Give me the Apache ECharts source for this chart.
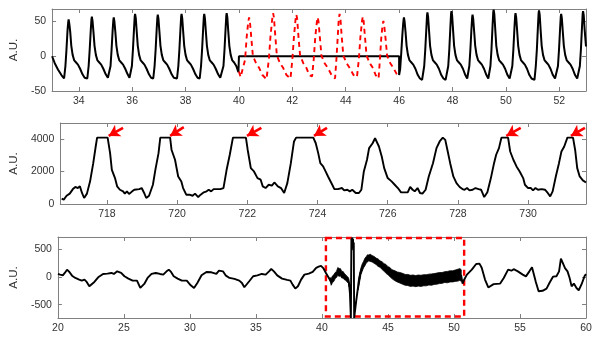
<!DOCTYPE html>
<html>
<head>
<meta charset="utf-8">
<script src="https://cdn.jsdelivr.net/npm/echarts@6/dist/echarts.min.js"></script>
<style>
html,body{margin:0;padding:0;background:#fff;}
#chart{width:598px;height:339px;}
</style>
</head>
<body>
<div id="chart"></div>
<script>
// ---------- Panel 1 (top) ----------
const topTicksX = [34,36,38,40,42,44,46,48,50,52];
const topTicksY = [-50,0,50];
const topBlack = [
[33.00,0],[33.10,-10],[33.22,-19],[33.35,-27],
[33.45,-32],[33.50,-14],[33.54,10],[33.58,38],[33.605,49],[33.62,53],[33.645,47],[33.68,35],[33.72,15],[33.77,2],[33.83,-6],[33.90,-9],[33.97,-12],[34.05,-18],[34.14,-26],[34.22,-31],[34.28,-32],
[34.32,-32],[34.37,-14],[34.41,10],[34.45,38],[34.475,53],[34.49,57],[34.515,51],[34.55,35],[34.59,15],[34.64,2],[34.70,-6],[34.77,-9],[34.84,-12],[34.92,-18],[35.01,-26],[35.09,-31],
[35.14,-32],[35.19,-14],[35.23,10],[35.27,38],[35.295,52],[35.31,56],[35.335,50],[35.37,35],[35.41,15],[35.46,2],[35.52,-6],[35.59,-9],[35.66,-12],[35.74,-18],[35.83,-26],[35.90,-31],
[35.94,-32],[35.99,-14],[36.03,10],[36.07,40],[36.095,57],[36.11,61],[36.135,55],[36.17,36],[36.21,15],[36.26,2],[36.32,-6],[36.39,-9],[36.46,-12],[36.54,-18],[36.63,-26],[36.71,-31],[36.76,-32],
[36.79,-32],[36.84,-14],[36.88,10],[36.92,40],[36.945,56],[36.96,60],[36.985,54],[37.02,36],[37.06,15],[37.11,2],[37.17,-6],[37.24,-9],[37.31,-12],[37.39,-18],[37.48,-26],[37.56,-31],[37.62,-32],
[37.68,-32],[37.73,-14],[37.77,10],[37.81,40],[37.835,57],[37.85,61],[37.875,55],[37.91,36],[37.95,15],[38.00,2],[38.06,-6],[38.13,-9],[38.20,-12],[38.28,-18],[38.37,-26],[38.45,-31],[38.48,-32],
[38.53,-32],[38.58,-14],[38.62,10],[38.66,40],[38.685,57],[38.70,61],[38.725,55],[38.76,36],[38.80,15],[38.85,2],[38.91,-6],[38.98,-9],[39.05,-12],[39.13,-18],[39.22,-26],[39.30,-31],[39.33,-32],
[39.37,-32],[39.42,-14],[39.46,10],[39.50,40],[39.525,58],[39.54,62],[39.565,56],[39.60,36],[39.64,15],[39.69,2],[39.75,-6],[39.82,-9],[39.90,-14],[39.98,-23],
[40.00,0],[46.00,0],[46.00,-27],
[46.04,-18],[46.08,5],[46.12,30],[46.15,46],[46.165,52],[46.18,56],[46.205,50],[46.24,35],[46.28,15],[46.33,2],[46.39,-6],[46.46,-9],[46.53,-12],[46.61,-18],[46.70,-27],[46.78,-32],[46.86,-34],
[46.89,-34],[46.94,-14],[46.98,10],[47.02,40],[47.045,59],[47.06,63],[47.085,57],[47.12,37],[47.16,15],[47.21,2],[47.27,-6],[47.34,-9],[47.41,-12],[47.49,-18],[47.58,-27],[47.66,-32],[47.74,-34],
[47.79,-34],[47.84,-14],[47.88,10],[47.92,42],[47.945,61],[47.96,65],[47.985,59],[48.02,38],[48.06,15],[48.11,2],[48.17,-6],[48.24,-9],[48.31,-12],[48.39,-18],[48.48,-27],[48.55,-32],
[48.58,-34],[48.63,-14],[48.67,10],[48.71,40],[48.735,56],[48.75,60],[48.775,54],[48.81,36],[48.85,15],[48.90,2],[48.96,-6],[49.03,-9],[49.10,-12],[49.18,-18],[49.27,-27],[49.34,-32],
[49.37,-34],[49.42,-14],[49.46,10],[49.50,44],[49.525,63],[49.54,67],[49.565,61],[49.60,39],[49.64,15],[49.69,2],[49.75,-6],[49.82,-9],[49.89,-12],[49.97,-18],[50.06,-27],[50.14,-32],
[50.19,-34],[50.24,-14],[50.28,10],[50.32,41],[50.345,58],[50.36,62],[50.385,56],[50.42,37],[50.46,15],[50.51,2],[50.57,-6],[50.64,-9],[50.71,-12],[50.79,-18],[50.88,-27],[50.96,-32],[51.02,-34],
[51.07,-34],[51.12,-14],[51.16,10],[51.20,43],[51.225,62],[51.24,66],[51.265,60],[51.30,38],[51.34,15],[51.39,2],[51.45,-6],[51.52,-9],[51.59,-12],[51.67,-18],[51.76,-27],[51.84,-32],[51.88,-34],
[51.90,-34],[51.95,-14],[51.99,10],[52.03,40],[52.055,57],[52.07,61],[52.095,55],[52.13,36],[52.17,15],[52.22,2],[52.28,-6],[52.35,-9],[52.42,-12],[52.50,-18],[52.59,-27],[52.67,-32],[52.70,-34],
[52.72,-34],[52.77,-14],[52.81,10],[52.85,42],[52.875,61],[52.89,65],[52.915,59],[52.95,38],[53.00,14]
];
const topRed = [
[40.00,-22],[40.06,-30],[40.13,-31],[40.23,-5],[40.29,28],[40.35,50],[40.38,56],[40.41,50],[40.46,28],[40.52,1],[40.64,-10],[40.76,-17],[40.88,-27],
[41.03,-33],[41.12,-5],[41.18,28],[41.25,55],[41.28,62],[41.31,56],[41.36,30],[41.42,1],[41.54,-10],[41.66,-17],[41.78,-27],
[41.93,-32],[42.00,-5],[42.06,28],[42.12,53],[42.15,60],[42.18,54],[42.23,28],[42.29,1],[42.41,-10],[42.53,-17],[42.63,-27],
[42.74,-29],[42.80,-5],[42.86,28],[42.92,50],[42.95,56],[42.98,50],[43.03,28],[43.09,1],[43.21,-10],[43.33,-17],[43.47,-27],
[43.60,-32],[43.65,-5],[43.70,28],[43.74,54],[43.77,61],[43.80,55],[43.85,28],[43.91,1],[44.03,-10],[44.15,-17],[44.29,-27],
[44.42,-30],[44.49,-5],[44.55,28],[44.61,51],[44.64,57],[44.67,51],[44.72,28],[44.78,1],[44.90,-10],[45.02,-17],[45.12,-27],
[45.23,-32],[45.28,-5],[45.33,26],[45.38,45],[45.41,51],[45.44,45],[45.49,26],[45.55,1],[45.67,-10],[45.79,-17],[45.90,-25],
[46.01,-28]
];

// ---------- Panel 2 (middle) ----------
const midTicksX = [718,720,722,724,726,728,730];
const midTicksY = [0,2000,4000];
const midSignal = [
[716.71,330],[716.77,270],[716.85,510],[716.94,640],[717.03,920],[717.10,1050],[717.17,985],[717.23,1090],[717.29,680],[717.35,370],[717.43,640],[717.52,1400],[717.61,2520],[717.68,3550],[717.72,4095],[718.02,4095],[718.09,3140],[718.14,2110],[718.23,1600],[718.29,1090],[718.37,880],[718.46,780],[718.51,640],[718.57,780],[718.63,615],[718.72,780],[718.78,880],[718.92,920],[718.99,985],[719.06,680],[719.12,370],[719.20,510],[719.31,1190],[719.38,2110],[719.47,3140],[719.52,4095],[719.80,4095],[719.84,3350],[719.94,2730],[720.03,1700],[720.12,1395],[720.17,985],[720.26,575],[720.35,575],[720.44,510],[720.51,640],[720.60,430],[720.67,575],[720.76,720],[720.84,780],[720.90,880],[720.97,780],[721.04,920],[721.13,920],[721.23,920],[721.32,985],[721.41,2110],[721.50,3040],[721.59,4095],[721.96,4095],[722.01,3350],[722.10,2215],[722.19,2010],[722.29,1600],[722.38,1500],[722.44,1090],[722.52,985],[722.61,1190],[722.70,1130],[722.77,1330],[722.87,1090],[722.96,985],[723.05,680],[723.14,1290],[723.24,2520],[723.33,3860],[723.39,4095],[723.88,4095],[723.95,3750],[724.02,3140],[724.08,2520],[724.16,2320],[724.23,2010],[724.30,1700],[724.34,1600],[724.42,1190],[724.48,920],[724.58,920],[724.62,840],[724.70,985],[724.76,840],[724.85,880],[724.92,780],[724.99,880],[725.09,680],[725.18,680],[725.25,880],[725.32,2010],[725.41,2730],[725.47,3450],[725.57,3750],[725.64,4060],[725.69,4060],[725.75,3550],[725.83,2930],[725.90,2215],[726.00,1600],[726.11,1395],[726.20,1190],[726.29,985],[726.38,720],[726.48,720],[726.57,720],[726.64,1050],[726.71,880],[726.77,780],[726.85,985],[726.92,680],[726.99,640],[727.08,880],[727.17,1700],[727.29,2520],[727.39,3450],[727.48,3860],[727.57,4100],[727.64,3960],[727.70,3350],[727.78,2520],[727.87,1700],[727.96,1290],[728.05,1050],[728.13,920],[728.19,880],[728.26,985],[728.33,840],[728.42,880],[728.50,985],[728.59,920],[728.66,880],[728.75,430],[728.84,720],[728.94,1600],[729.03,2520],[729.09,3040],[729.17,3450],[729.24,4095],[729.43,4095],[729.49,3240],[729.58,2730],[729.67,2320],[729.76,2010],[729.86,1600],[729.91,1190],[730.00,985],[730.08,985],[730.14,840],[730.21,985],[730.28,880],[730.39,920],[730.48,880],[730.56,680],[730.63,470],[730.70,780],[730.79,1700],[730.88,2520],[730.95,3240],[731.03,3550],[731.12,4095],[731.28,4095],[731.34,3350],[731.40,2215],[731.47,1700],[731.56,1460],[731.65,1330]
];
const arrowTipX  = [718.05, 719.80, 721.99, 723.90, 729.38, 731.22];
const arrowTipY  = [4200, 4200, 4200, 4200, 4200, 4200];
const arrowTailX = [718.46, 720.19, 722.40, 724.27, 729.79, 731.62];
const arrowTailY = [4700, 4740, 4700, 4700, 4700, 4700];

// ---------- Panel 3 (bottom) ----------
const botTicksX = [20,25,30,35,40,45,50,55,60];
const botTicksY = [-500,0,500];
const botSignal = [
[20.00,54],[20.17,42],[20.37,29],[20.52,72],[20.69,131],[20.87,90],[21.07,23],[21.32,-18],[21.61,-48],[21.81,-66],[22.01,-48],[22.18,-90],[22.38,-168],[22.51,-186],[22.76,-90],[23.05,-6],[23.42,54],[23.75,60],[24.05,72],[24.24,54],[24.49,101],[24.62,113],[24.79,72],[25.04,12],[25.34,-30],[25.66,-66],[25.99,-66],[26.24,-198],[26.34,-216],[26.54,-126],[26.79,-18],[27.09,54],[27.41,72],[27.73,54],[27.98,42],[28.23,101],[28.40,131],[28.57,90],[28.77,12],[29.07,-30],[29.39,-66],[29.76,-66],[30.06,-150],[30.31,-198],[30.56,-108],[30.88,29],[31.25,90],[31.63,84],[32.00,54],[32.20,113],[32.33,149],[32.50,101],[32.70,29],[33.00,-18],[33.37,-36],[33.74,-66],[33.94,-108],[34.12,-186],[34.24,-180],[34.49,-78],[34.79,12],[35.11,29],[35.44,54],[35.74,42],[35.99,101],[36.16,143],[36.36,101],[36.61,29],[36.98,-30],[37.36,-54],[37.61,-66],[37.78,-138],[37.98,-210],[38.18,-168],[38.42,-48],[38.67,42],[39.00,60],[39.30,90],[39.56,165],[39.75,185],[39.93,200],[40.10,160],[40.30,70],[40.50,-10],
[40.60,-25],[40.70,-90],[40.80,-45],[40.95,-5],[41.10,50],[41.30,85],[41.45,60],[41.60,35],[41.75,5],[41.90,-40],[42.05,-110],
[42.12,-300],[42.19,-740],[42.23,690],[42.26,560],[42.29,710],[42.32,520],[42.35,690],[42.38,480],[42.41,620],[42.44,-740],[42.59,-440],[42.75,-150],
[42.90,60],[43.10,190],[43.30,300],[43.50,345],[43.80,330],[44.10,280],[44.50,210],[44.90,120],[45.30,45],[45.70,-5],[46.10,-40],[46.50,-65],[47.00,-70],[47.50,-68],[48.00,-55],[48.50,-40],[49.00,-20],[49.50,-5],[50.00,18],[50.35,40],[50.55,25],
[50.65,-120],[50.75,-60],[50.98,42],[51.35,131],[51.68,233],[51.93,240],[52.10,167],[52.35,-48],[52.60,-190],[52.73,-160],[53.00,-130],[53.50,-120],[53.77,-18],[54.10,131],[54.35,113],[54.52,140],[54.84,101],[55.21,42],[55.45,10],[55.71,101],[55.91,175],[56.00,150],[56.20,-90],[56.41,-258],[56.71,-250],[57.01,-210],[57.25,-100],[57.50,5],[57.76,12],[57.96,101],[58.10,330],[58.20,340],[58.41,160],[58.60,100],[58.76,-18],[58.91,-170],[59.08,-120],[59.28,-200],[59.45,-240],[59.65,-140],[59.90,20],[60.00,50]
];
// noise envelope (two segments)
const bandAX    = [40.60, 40.70, 40.80, 40.90, 41.00, 41.10, 41.20, 41.30, 41.40, 41.50, 41.60, 41.70, 41.80, 41.90, 42.00, 42.06];
const bandALow  = [-50, -150, -100, -80, -30, -10, 30, 10, 20, -20, -20, -50, -60, -90, -110, -180];
const bandAHigh = [-10, -30, 20, 40, 80, 100, 170, 150, 150, 100, 100, 60, 40, 10, -10, -60];
const bandBX    = [42.75, 42.85, 42.95, 43.05, 43.15, 43.25, 43.35, 43.45, 43.55, 43.65, 43.80, 43.95, 44.10, 44.25, 44.40, 44.55, 44.70, 44.85, 45.00, 45.15, 45.30, 45.50, 45.70, 45.90, 46.10, 46.30, 46.50, 46.70, 46.90, 47.10, 47.30, 47.50, 47.70, 47.90, 48.10, 48.30, 48.50, 48.70, 48.90, 49.10, 49.30, 49.50, 49.70, 49.90, 50.10, 50.30, 50.45, 50.55];
const bandBLow  = [-230, -90, 40, 105, 165, 200, 250, 270, 290, 280, 270, 245, 225, 190, 175, 135, 105, 65, 40, 5, -30, -65, -90, -110, -130, -150, -155, -170, -165, -175, -165, -170, -160, -160, -145, -150, -135, -130, -120, -115, -100, -105, -90, -90, -80, -75, -60, -80];
const bandBHigh = [-70, 60, 160, 235, 280, 335, 365, 400, 395, 410, 385, 370, 340, 325, 290, 275, 240, 225, 185, 170, 130, 115, 90, 80, 65, 45, 45, 30, 35, 25, 35, 30, 40, 40, 50, 55, 60, 70, 80, 80, 95, 100, 110, 110, 125, 140, 150, 130];
const boxX = [40.3, 50.77];
const boxY = [-712, 702];

// ---------- build ----------
const FONT = '"Liberation Sans", Arial, Helvetica, sans-serif';
const AXC = '#808080';
const LBL = '#333333';
const plain = v => String(v);

function xPair(grid, min, max, ticks){
  const base = {
    type:'value', gridIndex:grid, min:min, max:max,
    axisLine:{show:true, onZero:false, lineStyle:{color:AXC, width:1}},
    splitLine:{show:false}
  };
  return [
    Object.assign({}, base, {position:'bottom',
      axisTick:{show:true, inside:true, length:4, customValues:ticks, lineStyle:{color:AXC}},
      axisLabel:{show:true, customValues:ticks, formatter:plain, margin:5, color:LBL, fontSize:10.5, fontFamily:FONT}}),
    Object.assign({}, base, {position:'top',
      axisTick:{show:true, inside:true, length:4, customValues:ticks, lineStyle:{color:AXC}},
      axisLabel:{show:false}})
  ];
}
function yPair(grid, min, max, ticks){
  const base = {
    type:'value', gridIndex:grid, min:min, max:max,
    axisLine:{show:true, onZero:false, lineStyle:{color:AXC, width:1}},
    splitLine:{show:false}
  };
  return [
    Object.assign({}, base, {position:'left', name:'A.U.', nameLocation:'middle', nameGap:28,
      nameTextStyle:{color:LBL, fontSize:11.5, fontFamily:FONT},
      axisTick:{show:true, inside:true, length:4, customValues:ticks, lineStyle:{color:AXC}},
      axisLabel:{show:true, customValues:ticks, formatter:plain, margin:6, color:LBL, fontSize:10.5, fontFamily:FONT}}),
    Object.assign({}, base, {position:'right',
      axisTick:{show:true, inside:true, length:4, customValues:ticks, lineStyle:{color:AXC}},
      axisLabel:{show:false}})
  ];
}

const xAxes = [].concat(
  xPair(0, 33, 53, topTicksX),
  xPair(1, 716.67, 731.65, midTicksX),
  xPair(2, 20, 60, botTicksX)
);
const yAxes = [].concat(
  yPair(0, -50, 68, topTicksY),
  yPair(1, 0, 5000, midTicksY),
  yPair(2, -740, 720, botTicksY)
);

const arrows = arrowTipX.map((tx, i) => [
  {coord:[arrowTailX[i], arrowTailY[i]]},
  {coord:[tx, arrowTipY[i]]}
]);

function bandPolygon(api, xs, lo, hi){
  const pts = [];
  for (let i = 0; i < xs.length; i++) pts.push(api.coord([xs[i], lo[i]]));
  for (let i = xs.length - 1; i >= 0; i--) pts.push(api.coord([xs[i], hi[i]]));
  return {type:'polygon', shape:{points:pts}, style:{fill:'#000', stroke:'#000', lineWidth:0.8}};
}

const option = {
  animation:false,
  backgroundColor:'#ffffff',
  grid:[
    {left:49, right:12, top:9, height:82},
    {left:49, right:12, top:123, height:81},
    {left:49, right:12, top:237, height:81}
  ],
  xAxis: xAxes,
  yAxis: yAxes,
  series:[
    {type:'line', xAxisIndex:0, yAxisIndex:0, data:topBlack, showSymbol:false, symbol:'none',
     lineStyle:{color:'#000', width:2}, z:2},
    {type:'line', xAxisIndex:0, yAxisIndex:0, data:topRed, showSymbol:false, symbol:'none',
     lineStyle:{color:'#ff0000', width:1.9, type:[5,4]}, z:3},
    {type:'line', xAxisIndex:2, yAxisIndex:2, data:midSignal, showSymbol:false, symbol:'none',
     lineStyle:{color:'#000', width:1.9}, z:2,
     markLine:{silent:true, symbol:['none','arrow'], symbolSize:[10,11], animation:false,
       label:{show:false}, lineStyle:{color:'#ff0000', width:2.6, type:'solid'},
       emphasis:{disabled:true}, data:arrows}},
    {type:'custom', xAxisIndex:4, yAxisIndex:4, coordinateSystem:'cartesian2d', clip:true,
     data:[[45, 0]], silent:true, z:2,
     renderItem:function(params, api){
       return {type:'group', children:[
         bandPolygon(api, bandAX, bandALow, bandAHigh),
         bandPolygon(api, bandBX, bandBLow, bandBHigh)
       ]};
     }},
    {type:'line', xAxisIndex:4, yAxisIndex:4, data:botSignal, showSymbol:false, symbol:'none',
     lineStyle:{color:'#000', width:1.9}, z:3,
     markArea:{silent:true,
       itemStyle:{color:'rgba(0,0,0,0)', borderColor:'#ff0000', borderWidth:2.4, borderType:[6,4]},
       data:[[{coord:[boxX[0], boxY[1]]},{coord:[boxX[1], boxY[0]]}]]}}
  ]
};

const chart = echarts.init(document.getElementById('chart'), null, {renderer:'canvas'});
chart.setOption(option);
</script>
</body>
</html>
